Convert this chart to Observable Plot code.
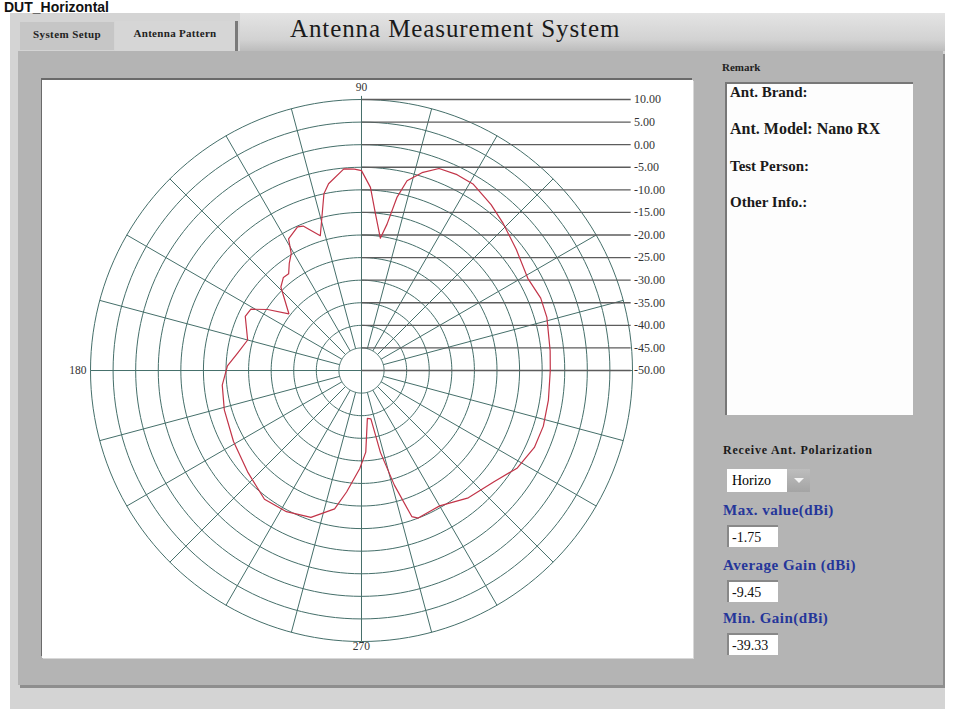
<!DOCTYPE html>
<html>
<head>
<meta charset="utf-8">
<script src="https://cdn.jsdelivr.net/npm/d3@7"></script>
<script src="https://cdn.jsdelivr.net/npm/@observablehq/plot@0.6"></script>
<style>
  html, body { margin: 0; padding: 0; }
  body { width: 961px; height: 709px; position: relative; overflow: hidden; background: #ffffff; font-family: "Liberation Serif", serif; }
  .abs { position: absolute; }
  #dut { left: 4px; top: 0px; font: bold 14px "Liberation Sans", sans-serif; line-height: 14px; color: #111; z-index: 5; }
  #win { left: 10px; top: 13px; width: 935px; height: 700px; background: #d4d4d4; }
  #titleband { left: 240px; top: 13px; width: 705px; height: 38px; background: linear-gradient(#e4e4e4, #d2d2d2 70%, #bcbcbc); }
  #tab1 { left: 20px; top: 22px; width: 94px; height: 28px; background: #c6c6c6; font: bold 11px "Liberation Serif", serif; letter-spacing: 0.4px; color: #222; line-height: 24px; text-align: center; white-space: nowrap; }
  #tab2 { left: 115px; top: 21px; width: 120px; height: 30px; background: #d6d6d6; font: bold 11px "Liberation Serif", serif; letter-spacing: 0.3px; color: #222; line-height: 24px; text-align: center; border-right: 3px solid #7a7a7a; white-space: nowrap; }
  #title { left: 290px; top: 15px; font: 25px "Liberation Serif", serif; color: #1a1a1a; letter-spacing: 0.9px; white-space: nowrap; }
  #panel { left: 18px; top: 51px; width: 925px; height: 634px; background: #b4b4b4; box-shadow: 2px 3px 0 #8e8e8e; }
  #plotbox { left: 42px; top: 80px; width: 651px; height: 578px; background: #fff; box-shadow: -1px -2px 0 #6a6a6a, 1px 1px 0 #d8d8d8; }
  #remark { left: 722px; top: 61px; font: bold 11px "Liberation Serif", serif; color: #222; }
  #remarkbox { left: 725px; top: 82px; width: 188px; height: 333px; background: #fdfdfd; border-top: 2px solid #777; border-left: 2px solid #777; box-sizing: border-box; }
  .rtext { left: 730px; font: bold 15px "Liberation Serif", serif; color: #1a1a1a; white-space: nowrap; }
  #polar { left: 723px; top: 443px; font: bold 12px "Liberation Serif", serif; letter-spacing: 0.8px; color: #1a1a1a; white-space: nowrap; }
  #drop { left: 727px; top: 469px; width: 60px; height: 23px; background: #fff; font: 14px "Liberation Serif", serif; line-height: 23px; padding-left: 5px; box-sizing: border-box; }
  #dropbtn { left: 787px; top: 469px; width: 23px; height: 23px; background: linear-gradient(#bdbdbd, #a4a4a4); }
  #dropbtn:after { content: ""; position: absolute; left: 7px; top: 9px; border-left: 5px solid transparent; border-right: 5px solid transparent; border-top: 5px solid #f4f4f4; }
  .blue { left: 723px; font: bold 15px "Liberation Serif", serif; letter-spacing: 0.5px; color: #25369a; white-space: nowrap; }
  .val { left: 727px; width: 51px; height: 22px; background: #fff; font: 14px "Liberation Serif", serif; line-height: 21px; padding-left: 3px; box-sizing: border-box; border-top: 2px solid #888; border-left: 2px solid #888; color: #111; }
  #plot { left: 42px; top: 80px; }
</style>
</head>
<body>
<div id="dut" class="abs">DUT_Horizontal</div>
<div id="win" class="abs"></div>
<div id="titleband" class="abs"></div>
<div id="tab1" class="abs">System Setup</div>
<div id="tab2" class="abs">Antenna Pattern</div>
<div id="title" class="abs">Antenna Measurement System</div>
<div id="panel" class="abs"></div>
<div id="plotbox" class="abs"></div>
<div id="plot" class="abs"></div>
<div id="remark" class="abs">Remark</div>
<div id="remarkbox" class="abs"></div>
<div class="abs rtext" style="top:84px;">Ant. Brand:</div>
<div class="abs rtext" style="top:120px;font-size:16px;">Ant. Model: Nano RX</div>
<div class="abs rtext" style="top:158px;">Test Person:</div>
<div class="abs rtext" style="top:194px;">Other Info.:</div>
<div id="polar" class="abs">Receive Ant. Polarization</div>
<div id="drop" class="abs">Horizo</div>
<div id="dropbtn" class="abs"></div>
<div class="abs blue" style="top:502px;">Max. value(dBi)</div>
<div class="abs val" style="top:525px;">-1.75</div>
<div class="abs blue" style="top:557px;">Average Gain (dBi)</div>
<div class="abs val" style="top:580px;">-9.45</div>
<div class="abs blue" style="top:610px;">Min. Gain(dBi)</div>
<div class="abs val" style="top:633px;">-39.33</div>

<script>
// ---- data ----
const ringLevels = [10, 5, 0, -5, -10, -15, -20, -25, -30, -35, -40, -45, -50];
const ringLabels = ["10.00", "5.00", "0.00", "-5.00", "-10.00", "-15.00", "-20.00", "-25.00", "-30.00", "-35.00", "-40.00", "-45.00", "-50.00"];
const spokeAngles = [0, 15, 30, 45, 60, 75, 90, 105, 120, 135, 150, 165, 180, 195, 210, 225, 240, 255, 270, 285, 300, 315, 330, 345];
const axisAngles = [90, 180, 270];
const axisLabels = ["90", "180", "270"];
const patternAngles = [0, 6, 16, 22, 29, 38, 46, 52, 59, 64, 69, 73, 76.5, 78.4, 80.1, 81.9, 84.9, 87.2, 90, 92, 95, 100, 102, 107, 112, 114, 119, 121, 124, 127, 130, 134, 142, 147, 151, 155, 165, 172, 178, 186, 196, 209, 222, 233, 242, 251, 259, 263, 269, 273, 277, 281, 283, 286, 289, 291, 300, 310, 320, 328, 336, 343, 351];
const patternGains = [-8.2, -8.0, -7.3, -7.2, -7.9, -6.5, -4.8, -3.4, -1.9, -1.75, -2.1, -4.2, -6.8, -10.8, -17.1, -20.4, -15.2, -9.4, -5.75, -5.4, -5.2, -8.0, -10.0, -18.8, -15.5, -15.2, -16.7, -19.8, -21.4, -23.2, -23.1, -24.3, -29.6, -25.2, -22.0, -21.6, -23.9, -22.3, -20.3, -19.0, -18.4, -17.6, -16.2, -14.3, -14.6, -15.6, -18.8, -22.9, -28.3, -31.9, -39.33, -39.1, -31.4, -23.6, -15.8, -15.0, -15.4, -13.2, -11.7, -9.3, -8.1, -7.9, -8.1];

// ---- geometry helpers ----
const floor = -50;
const rad = g => g - floor;               // radius in dB above the floor
const cx = (r, a) => r * Math.cos(a * Math.PI / 180);
const cy = (r, a) => r * Math.sin(a * Math.PI / 180);
const outer = rad(ringLevels[0]);
const inner = rad(ringLevels[ringLevels.length - 2]);

const circlePts = [];
ringLevels.filter(l => rad(l) > 0).forEach(l => {
  for (let a = 0; a <= 360; a += 2) circlePts.push({level: l, x: cx(rad(l), a), y: cy(rad(l), a)});
});

const grid = "#456f6a";
const serif = "Liberation Serif";

const chart = Plot.plot({
  width: 651,
  height: 578,
  margin: 0,
  x: {domain: [-70.63, 73.51], axis: null},
  y: {domain: [-63.76, 64.21], axis: null},
  style: {background: "transparent", overflow: "visible"},
  marks: [
    Plot.line(circlePts, {x: "x", y: "y", z: "level", stroke: grid, strokeWidth: 1}),
    Plot.link(spokeAngles, {
      x1: a => cx(a % 90 === 0 ? 0 : inner, a), y1: a => cy(a % 90 === 0 ? 0 : inner, a),
      x2: a => cx(a === 90 ? outer + 0.8 : outer, a), y2: a => cy(a === 90 ? outer + 0.8 : outer, a),
      stroke: grid, strokeWidth: 1
    }),
    Plot.link(ringLevels, {
      x1: () => 0, x2: () => outer - 0.4,
      y1: d => rad(d), y2: d => rad(d),
      stroke: "#5c5c5c", strokeWidth: 1.3
    }),
    Plot.text(ringLevels, {
      x: () => outer + 0.1, y: d => rad(d), text: (d, i) => ringLabels[i],
      textAnchor: "start", fontSize: 12, fontFamily: serif, fill: "#333", dx: 1
    }),
    Plot.text(axisAngles, {
      x: a => cx(a === 270 ? outer + 1.0 : outer + 2.8, a),
      y: a => cy(a === 270 ? outer + 1.0 : outer + 2.6, a),
      text: (a, i) => axisLabels[i],
      fontSize: 11.5, fontFamily: serif, fill: "#333"
    }),
    Plot.line(patternAngles, {
      x: (a, i) => cx(rad(patternGains[i]), a),
      y: (a, i) => cy(rad(patternGains[i]), a),
      curve: "linear-closed", stroke: "#c23448", strokeWidth: 1.2
    })
  ]
});
document.getElementById("plot").appendChild(chart);
</script>
</body>
</html>
